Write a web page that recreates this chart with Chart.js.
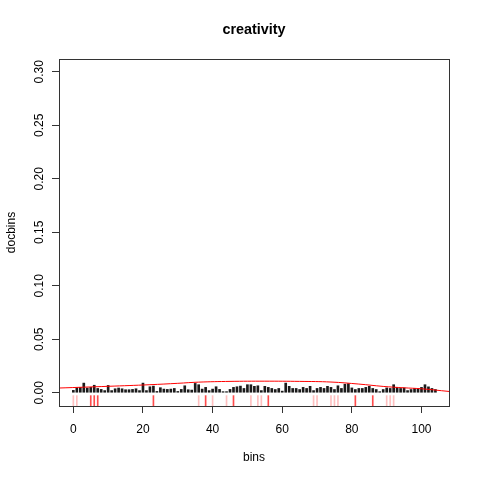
<!DOCTYPE html>
<html>
<head>
<meta charset="utf-8">
<script src="https://cdn.jsdelivr.net/npm/chart.js@4"></script>
<style>
  html, body { margin: 0; padding: 0; background: #fff; }
</style>
</head>
<body>
<canvas id="docChart" width="480" height="480"></canvas>
<script>
// bins 0..104 and their docbins value
const bins = Array.from({ length: 105 }, (_, i) => i);
const docbins = [
  0.0022, 0.0047, 0.0050, 0.0090, 0.0044, 0.0050, 0.0070, 0.0040, 0.0031, 0.0020,
  0.0068, 0.0020, 0.0037, 0.0044, 0.0037, 0.0028, 0.0028, 0.0031, 0.0037, 0.0020,
  0.0090, 0.0020, 0.0056, 0.0062, 0.0012, 0.0047, 0.0034, 0.0031, 0.0034, 0.0040,
  0.0012, 0.0031, 0.0065, 0.0028, 0.0025, 0.0087, 0.0075, 0.0034, 0.0050, 0.0020,
  0.0034, 0.0056, 0.0031, 0.0010, 0.0010, 0.0031, 0.0050, 0.0056, 0.0062, 0.0040,
  0.0075, 0.0075, 0.0060, 0.0065, 0.0020, 0.0060, 0.0050, 0.0040, 0.0030, 0.0040,
  0.0015, 0.0090, 0.0060, 0.0040, 0.0040, 0.0030, 0.0050, 0.0040, 0.0060, 0.0020,
  0.0040, 0.0050, 0.0040, 0.0060, 0.0050, 0.0030, 0.0065, 0.0040, 0.0080, 0.0085,
  0.0045, 0.0030, 0.0040, 0.0040, 0.0050, 0.0060, 0.0040, 0.0030, 0.0010, 0.0030,
  0.0045, 0.0040, 0.0075, 0.0050, 0.0040, 0.0045, 0.0020, 0.0030, 0.0040, 0.0040,
  0.0050, 0.0075, 0.0055, 0.0040, 0.0030
];

// smooth red curve
const curveX = [-4.12, 10, 22, 30, 36, 45, 55, 65, 74, 82, 89, 95, 100, 107.9];
const curveY = [0.0044, 0.0060, 0.0075, 0.0088, 0.0099, 0.0106, 0.0108, 0.0106, 0.0100, 0.0081, 0.0059, 0.0046, 0.0037, 0.0012];

// rug marks under the axis
const rugDark = [5, 6, 7, 23, 38, 46, 56, 81, 86];
const rugLight = [0, 1, 36, 40, 44, 51, 53, 54, 69, 70, 74, 75, 76, 90, 91, 92];

const xTicks = [0, 20, 40, 60, 80, 100];
const yTicks = [0, 0.05, 0.10, 0.15, 0.20, 0.25, 0.30];

const FONT = "'Liberation Sans', Arial, Helvetica, sans-serif";
const RUG_LO = -0.0124, RUG_HI = -0.0027;

const rPlot = {
  id: 'rPlot',
  afterDraw(chart) {
    const c = chart.ctx, a = chart.chartArea;
    const ys = chart.scales.y;
    c.save();
    c.strokeStyle = '#333';
    c.lineWidth = 1;
    c.strokeRect(Math.round(a.left) + 0.5, Math.round(a.top) + 0.5,
      Math.round(a.right - a.left), Math.round(a.bottom - a.top));
    // y tick labels, rotated like R
    c.fillStyle = '#000';
    c.font = '12px ' + FONT;
    c.textAlign = 'center';
    c.textBaseline = 'middle';
    yTicks.forEach(v => {
      const py = ys.getPixelForValue(v);
      c.save();
      c.translate(40, py);
      c.rotate(-Math.PI / 2);
      c.fillText(v.toFixed(2), 0, 0);
      c.restore();
    });
    const cx = (a.left + a.right) / 2;
    c.fillText('bins', cx, 458);
    c.save();
    c.translate(12, (a.top + a.bottom) / 2);
    c.rotate(-Math.PI / 2);
    c.fillText('docbins', 0, 0);
    c.restore();
    c.font = 'bold 14.4px ' + FONT;
    c.fillText('creativity', cx, 30);
    c.restore();
  }
};

new Chart(document.getElementById('docChart'), {
  type: 'bar',
  data: {
    datasets: [
      {
        type: 'line',
        label: 'density',
        data: curveX.map((x, i) => ({ x: x, y: curveY[i] })),
        borderColor: '#ff0000',
        borderWidth: 1,
        pointRadius: 0,
        tension: 0.4,
        fill: false
      },
      {
        label: 'docbins',
        data: bins.map((b, i) => ({ x: b, y: docbins[i] })),
        backgroundColor: '#1a1a1a',
        barThickness: 2
      },
      {
        label: 'rug dark',
        data: rugDark.map(r => ({ x: r, y: [RUG_LO, RUG_HI] })),
        backgroundColor: 'rgba(255,0,0,0.7)',
        barThickness: 1
      },
      {
        label: 'rug light',
        data: rugLight.map(r => ({ x: r, y: [RUG_LO, RUG_HI] })),
        backgroundColor: 'rgba(255,0,0,0.25)',
        barThickness: 1
      }
    ]
  },
  options: {
    responsive: false,
    animation: false,
    layout: { padding: { top: 59, right: 31, left: 0, bottom: 0 } },
    plugins: { legend: { display: false }, tooltip: { enabled: false } },
    datasets: { bar: { grouped: false } },
    scales: {
      x: {
        type: 'linear',
        offset: false,
        min: -4.12,
        max: 107.9,
        afterBuildTicks: s => { s.ticks = xTicks.map(v => ({ value: v })); },
        afterFit: s => { s.height = 74; },
        grid: { offset: false, drawOnChartArea: false, tickLength: 7, tickColor: '#333' },
        border: { display: false },
        ticks: { color: '#000', font: { family: FONT, size: 12 }, padding: 9, maxRotation: 0 }
      },
      y: {
        min: RUG_LO,
        max: 0.3119,
        afterBuildTicks: s => { s.ticks = yTicks.map(v => ({ value: v })); },
        afterFit: s => { s.width = 59; },
        grid: { drawOnChartArea: false, tickLength: 7, tickColor: '#333' },
        border: { display: false },
        ticks: { color: 'rgba(0,0,0,0)', font: { family: FONT, size: 12 } }
      }
    }
  },
  plugins: [rPlot]
});
</script>
</body>
</html>
